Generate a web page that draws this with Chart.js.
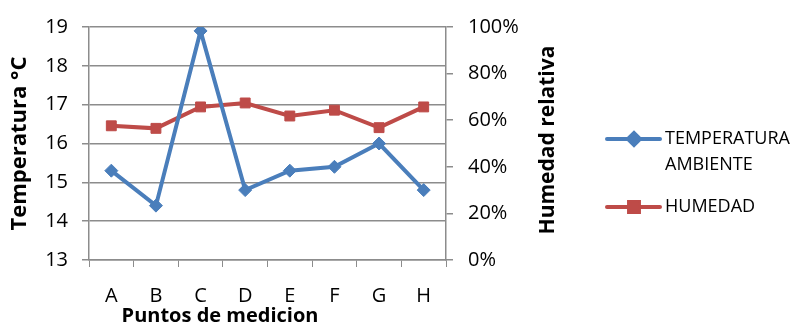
<!DOCTYPE html>
<html>
<head>
<meta charset="utf-8">
<script src="https://cdn.jsdelivr.net/npm/chart.js@4/dist/chart.umd.min.js"></script>
<style>
  html, body { margin: 0; padding: 0; background: #fff; }
  #wrap { width: 799px; height: 325px; position: relative; }
</style>
</head>
<body>
<div id="wrap"><canvas id="chart"></canvas></div>
<script>
// datos
const puntos = ["A", "B", "C", "D", "E", "F", "G", "H"];
const temperatura = [15.3, 14.4, 18.9, 14.8, 15.3, 15.4, 16.0, 14.8];
const humedad = [57.6, 56.5, 65.7, 67.4, 61.8, 64.3, 56.8, 65.7];
const tempTicks = [13, 19, 1];
const humTicks = [0, 100, 20];

const gris = "#8c8c8c";
const azul = "#4a7ebb";
const rojo = "#be4b48";
const fuente = "'Open Sans', sans-serif";

// leyenda, titulo derecho y titulo X dibujados a mano
// (Chart.js rota el titulo derecho al reves y centra el de X en otro sitio)
const extras = {
  id: "extras",
  afterDraw(chart) {
    const ctx = chart.ctx;
    ctx.save();
    ctx.fillStyle = "#000";
    ctx.textAlign = "center";
    ctx.textBaseline = "middle";
    ctx.font = "bold 20px " + fuente;
    ctx.fillText("Puntos de medicion", 220, 316);
    ctx.translate(548, 140);
    ctx.rotate(-Math.PI / 2);
    ctx.font = "bold 21px " + fuente;
    ctx.fillText("Humedad relativa", 0, 0);
    ctx.restore();

    const items = [
      { lines: ["TEMPERATURA", "AMBIENTE"], y: 139, color: azul, style: "rectRot", r: 6 },
      { lines: ["HUMEDAD"], y: 207, color: rojo, style: "rect", r: 7 }
    ];
    ctx.save();
    items.forEach(function (it) {
      ctx.strokeStyle = it.color;
      ctx.lineWidth = 4;
      ctx.lineCap = "round";
      ctx.beginPath();
      ctx.moveTo(607, it.y);
      ctx.lineTo(660, it.y);
      ctx.stroke();
      ctx.fillStyle = it.color;
      Chart.helpers.drawPoint(ctx, { pointStyle: it.style, radius: it.r, borderWidth: 1 }, 634, it.y);
      ctx.fill();
      ctx.fillStyle = "#000";
      ctx.font = "18px " + fuente;
      ctx.textAlign = "left";
      ctx.textBaseline = "middle";
      it.lines.forEach(function (t, i) {
        ctx.fillText(t, 665, it.y + i * 26);
      });
    });
    ctx.restore();
  }
};

const ctx = document.getElementById("chart").getContext("2d");

new Chart(ctx, {
  type: "line",
  data: {
    labels: puntos,
    datasets: [{
      label: "TEMPERATURA AMBIENTE",
      data: temperatura,
      yAxisID: "y",
      borderColor: azul,
      backgroundColor: azul,
      borderWidth: 4,
      pointStyle: "rectRot",
      pointRadius: 6.5,
      pointBorderWidth: 1,
      tension: 0
    }, {
      label: "HUMEDAD",
      data: humedad,
      yAxisID: "y1",
      borderColor: rojo,
      backgroundColor: rojo,
      borderWidth: 4,
      pointStyle: "rect",
      pointRadius: 7,
      pointBorderWidth: 1,
      tension: 0
    }]
  },
  options: {
    responsive: true,
    maintainAspectRatio: false,
    animation: false,
    layout: { padding: { top: 20, left: 0, right: 0, bottom: 0 } },
    plugins: {
      legend: { display: false },
      tooltip: { enabled: false }
    },
    scales: {
      x: {
        offset: true,
        afterFit: function (s) { s.height = 65; },
        grid: { offset: true, drawOnChartArea: false, color: gris, tickLength: 7 },
        border: { color: gris, width: 1.5 },
        ticks: { color: "#000", padding: 17, font: { family: fuente, size: 20 } }
      },
      y: {
        position: "left",
        min: tempTicks[0],
        max: tempTicks[1],
        afterFit: function (s) { s.width = 89; },
        grid: { color: gris, lineWidth: 1.5, tickLength: 7 },
        border: { color: gris, width: 1.5 },
        ticks: { stepSize: tempTicks[2], color: "#000", padding: 14, font: { family: fuente, size: 20 } },
        title: {
          display: true,
          text: "Temperatura °C",
          color: "#000",
          padding: { top: 7, bottom: 0 },
          font: { family: fuente, size: 22, weight: "bold" }
        }
      },
      y1: {
        position: "right",
        min: humTicks[0],
        max: humTicks[1],
        afterFit: function (s) { s.width = 353; },
        grid: { drawOnChartArea: false, color: gris, lineWidth: 1.5, tickLength: 7 },
        border: { color: gris, width: 1.5 },
        ticks: {
          stepSize: humTicks[2],
          color: "#000",
          padding: 15,
          font: { family: fuente, size: 20 },
          callback: function (v) { return v + "%"; }
        }
      }
    }
  },
  plugins: [extras]
});
</script>
</body>
</html>
